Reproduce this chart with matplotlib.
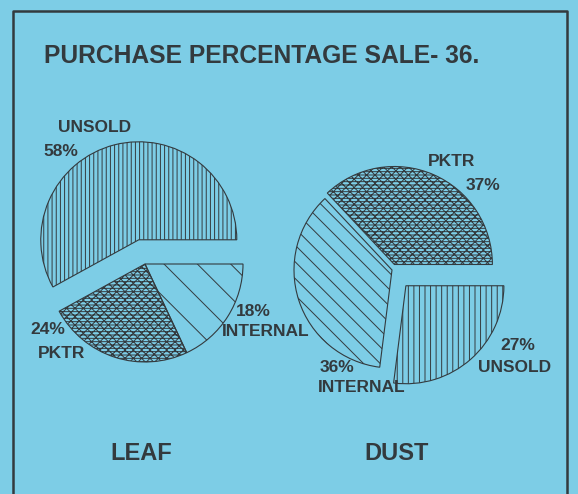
import matplotlib
matplotlib.use("Agg")
import matplotlib.pyplot as plt

plt.rcParams['font.family'] = ['Liberation Sans', 'DejaVu Sans']
plt.rcParams['hatch.linewidth'] = 0.7

title = "PURCHASE PERCENTAGE SALE- 36."

leaf_labels = ["UNSOLD", "PKTR", "INTERNAL"]
leaf_values = [58, 24, 18]
leaf_explode = [25, 0, 0]

dust_labels = ["PKTR", "INTERNAL", "UNSOLD"]
dust_values = [37, 36, 27]
dust_explode = [6, 0, 21]

pie_names = ["LEAF", "DUST"]

W, H = 578, 494
bg = '#7dcde6'
ink = '#333a3e'

fig = plt.figure(figsize=(W / 100, H / 100), dpi=100, facecolor=bg)
ax = fig.add_axes([0, 0, 1, 1])
ax.set_facecolor(bg)

hatch_map_leaf = {"UNSOLD": "||||", "PKTR": "-----xxxx", "INTERNAL": "\\"}
hatch_map_dust = {"UNSOLD": "|||", "PKTR": "-----xxxx", "INTERNAL": "\\\\"}

R = 98


def draw_pie(values, labels, explode, center, hmap):
    wedges, _ = ax.pie(values, explode=explode, startangle=0, counterclock=True,
                       radius=R, center=center, frame=True,
                       wedgeprops=dict(facecolor='none', edgecolor=ink, linewidth=0.8))
    for w, lab in zip(wedges, labels):
        w.set_hatch(hmap[lab])
    return wedges


draw_pie(leaf_values, leaf_labels, leaf_explode, (145, H - 264), hatch_map_leaf)
draw_pie(dust_values, dust_labels, dust_explode, (392, H - 270), hatch_map_dust)

ax.set_xlim(0, W)
ax.set_ylim(0, H)
ax.set_aspect('equal')
ax.axis('off')

# frame
ax.plot([13, 13, 567, 567], [0, H - 11, H - 11, 0], color=ink, lw=1.8)

# title
ax.text(44, H - 56, title, fontsize=17.7, color=ink, ha='left', va='center',
        fontweight='bold')

lab_fs = 12.5
def label(x, y, s, ha='left'):
    ax.text(x, H - y, s, fontsize=lab_fs, color=ink, ha=ha, va='center', fontweight='bold')

leaf = dict(zip(leaf_labels, leaf_values))
dust = dict(zip(dust_labels, dust_values))

label(58, 128, "UNSOLD")
label(43, 152, f"{leaf['UNSOLD']}%")
label(236, 311, f"{leaf['INTERNAL']}%")
label(222, 331, "INTERNAL")
label(30, 330, f"{leaf['PKTR']}%")
label(38, 353, "PKTR")

label(428, 162, "PKTR")
label(466, 185, f"{dust['PKTR']}%")
label(500, 346, f"{dust['UNSOLD']}%")
label(478, 367, "UNSOLD")
label(320, 367, f"{dust['INTERNAL']}%")
label(318, 388, "INTERNAL")

ax.text(141, H - 454, pie_names[0], fontsize=17, color=ink, ha='center', va='center',
        fontweight='bold')
ax.text(397, H - 454, pie_names[1], fontsize=17, color=ink, ha='center', va='center',
        fontweight='bold')

fig.savefig("out.png", dpi=100, facecolor=bg)
